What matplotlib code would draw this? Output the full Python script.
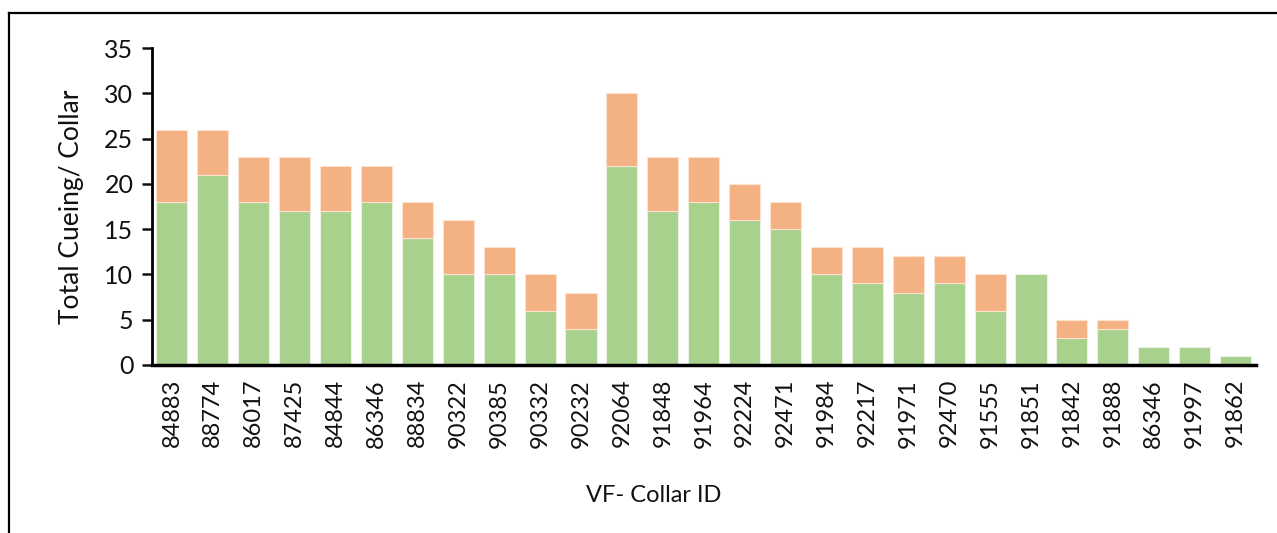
import matplotlib
matplotlib.use("Agg")
import matplotlib.pyplot as plt
from matplotlib.lines import Line2D
import numpy as np

collar_ids = ["84883", "88774", "86017", "87425", "84844", "86346", "88834", "90322",
              "90385", "90332", "90232", "92064", "91848", "91964", "92224", "92471",
              "91984", "92217", "91971", "92470", "91555", "91851", "91842", "91888",
              "86346", "91997", "91862"]
green_vals = [18, 21, 18, 17, 17, 18, 14, 10, 10, 6, 4, 22, 17, 18, 16, 15,
              10, 9, 8, 9, 6, 10, 3, 4, 2, 2, 1]
orange_vals = [8, 5, 5, 6, 5, 4, 4, 6, 3, 4, 4, 8, 6, 5, 4, 3,
               3, 4, 4, 3, 4, 0, 2, 1, 0, 0, 0]

plt.rcParams['font.family'] = ['Lato', 'DejaVu Sans']

W, H = 1277, 533
fig = plt.figure(figsize=(W / 100, H / 100), dpi=100)
ax = fig.add_axes([151.5 / W, 1 - 365 / H, (1256 - 151.5) / W, (365 - 48) / H])

x = np.arange(len(collar_ids))
ax.bar(x, green_vals, width=0.76, color="#A9D18E", edgecolor="#EAF3E2", linewidth=0.8)
ax.bar(x, orange_vals, width=0.76, bottom=green_vals, color="#F4B183",
       edgecolor="#FBE3D0", linewidth=[0.8 if v > 0 else 0 for v in orange_vals])

ax.set_xlim(-0.5, len(collar_ids) - 0.5)
ax.set_ylim(0, 35)
ax.set_yticks(range(0, 36, 5))
ax.set_xticks(x)
ax.set_xticklabels(collar_ids, rotation=90, fontsize=17, color="#111111")
ax.tick_params(axis='x', length=0, pad=10)
ax.tick_params(axis='y', labelsize=18, length=7, width=1.8, pad=6, colors="#111111")
for s in ["top", "right"]:
    ax.spines[s].set_visible(False)
ax.spines["left"].set_linewidth(2)
ax.spines["bottom"].set_linewidth(2.5)

ax.set_ylabel("Total Cueing/ Collar", fontsize=19, color="#111111")
ax.yaxis.set_label_coords((84 - 151.5) / (1256 - 151.5), 0.5)
fig.text(654 / W, 1 - 495 / H, "VF- Collar ID", fontsize=17, ha="center", va="center",
         color="#111111")

# outer frame
fig.add_artist(Line2D([9 / W, 1.0], [1 - 13 / H, 1 - 13 / H], transform=fig.transFigure,
                      color="black", linewidth=1.6))
fig.add_artist(Line2D([9 / W, 9 / W], [1 - 13 / H, 0], transform=fig.transFigure,
                      color="black", linewidth=1.6))

fig.savefig("out.png", dpi=100)
